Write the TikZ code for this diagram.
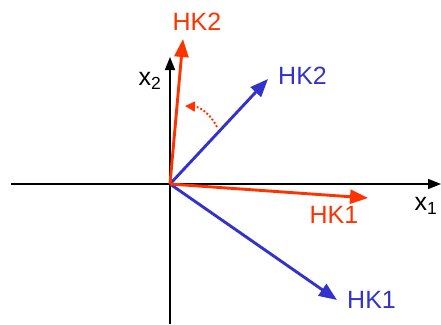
\documentclass[tikz,border=0pt]{standalone}
\usepackage{fontspec}
\setmainfont{Liberation Sans}
\usetikzlibrary{arrows.meta}
\definecolor{hkred}{RGB}{255,51,0}
\definecolor{hkblue}{RGB}{51,51,204}
\tikzset{axis/.style={-{Triangle[length=13pt,width=10pt]},line width=1.7pt},
  vec/.style={-{Triangle[length=18pt,width=14pt]},line width=2.9pt},
  lbl/.style={font=\fontsize{25}{25}\selectfont,inner sep=0pt}}

\begin{document}
\begin{tikzpicture}[x=1pt,y=-1pt]
\useasboundingbox (0,0) rectangle (441,324);
\coordinate (O) at (170,184);
\coordinate (xl) at (11,184);
\coordinate (xr) at (441,184);
\coordinate (yb) at (170,324);
\coordinate (yt) at (170,57);
% axes
\draw[axis] (xl)--(xr);
\draw[axis] (yb)--(yt);
\node[lbl] (x1) at (426,206) {x\textsubscript{1}};
\node[lbl] (x2) at (150,81) {x\textsubscript{2}};
% blue vectors
\coordinate (b1) at (337,300);
\coordinate (b2) at (268,79);
\draw[vec,hkblue] (O)--(b1);
\draw[vec,hkblue] (O)--(b2);
\node[lbl,hkblue,anchor=west] (B1) at (347,300) {HK1};
\node[lbl,hkblue,anchor=west] (B2) at (278,76) {HK2};
% red vectors
\coordinate (r1) at (368,198);
\coordinate (r2) at (183,39);
\draw[vec,hkred] (O)--(r1);
\draw[vec,hkred] (O)--(r2);
\node[lbl,hkred] (R1) at (334,215) {HK1};
\node[lbl,hkred] (R2) at (197,22) {HK2};
% rotation
\coordinate (s) at (217,127);
\coordinate (e) at (185,106);
\draw[hkred,line width=1.9pt,dotted,-{Triangle[length=10pt,width=10pt]}] (s) to[bend right=30] (e);
\end{tikzpicture}
\end{document}
